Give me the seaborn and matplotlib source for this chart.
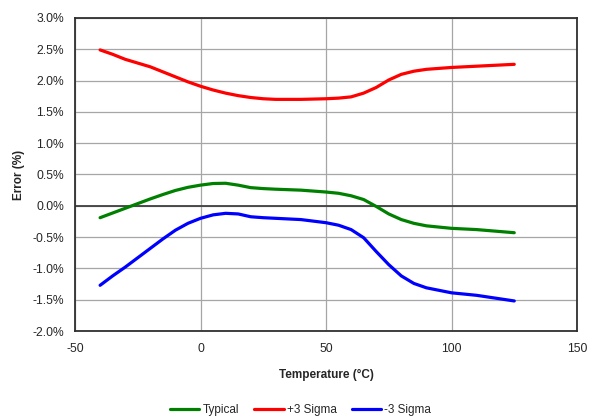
import numpy as np
import pandas as pd
import seaborn as sns
import matplotlib
matplotlib.use('Agg')
from matplotlib import pyplot as plt
from matplotlib.ticker import FuncFormatter

temps = [-40, -35, -30, -25, -20, -15, -10, -5, 0, 5, 10, 15, 20, 25, 30, 40, 50, 55,
         60, 65, 70, 75, 80, 85, 90, 100, 110, 125]
typical = [-0.19, -0.115, -0.04, 0.035, 0.11, 0.18, 0.245, 0.295, 0.33, 0.356, 0.36, 0.33,
           0.29, 0.275, 0.265, 0.25, 0.22, 0.20, 0.16, 0.10, -0.01, -0.13, -0.22, -0.28,
           -0.32, -0.36, -0.38, -0.43]
plus3 = [2.49, 2.42, 2.34, 2.28, 2.22, 2.14, 2.06, 1.98, 1.91, 1.85, 1.80, 1.76,
         1.73, 1.71, 1.70, 1.70, 1.71, 1.72, 1.74, 1.80, 1.89, 2.01, 2.10, 2.15,
         2.18, 2.21, 2.23, 2.26]
minus3 = [-1.27, -1.12, -0.98, -0.83, -0.68, -0.53, -0.39, -0.28, -0.20, -0.145, -0.12,
          -0.13, -0.175, -0.19, -0.20, -0.22, -0.27, -0.31, -0.38, -0.51, -0.73, -0.94,
          -1.12, -1.24, -1.31, -1.39, -1.43, -1.52]
series = ['Typical', '+3 Sigma', '-3 Sigma']
colors = ['#008000', '#ff0000', '#0000ff']

df = pd.DataFrame({
    'temp': temps * 3,
    'err': typical + plus3 + minus3,
    'series': sum([[s] * len(temps) for s in series], []),
})

sns.set_style('white')
plt.rcParams['font.family'] = ['Liberation Sans', 'DejaVu Sans']
plt.rcParams['font.size'] = 8.5
plt.rcParams['axes.unicode_minus'] = False

fig = plt.figure(figsize=(6.01, 4.18), dpi=100)
ax = fig.add_axes([75/601, 1-331/418, 502/601, 313/418])

sns.lineplot(data=df, x='temp', y='err', hue='series', hue_order=series,
             palette=colors, linewidth=2.3, ax=ax)

ax.set_xlim(-50, 150)
ax.set_ylim(-2.0, 3.0)
ax.set_xticks(np.arange(-50, 151, 50))
ax.set_yticks(np.arange(-2.0, 3.01, 0.5))
ax.yaxis.set_major_formatter(FuncFormatter(lambda v, p: '%.1f%%' % v))
ax.grid(True, color='#a6a6a6', linewidth=0.9)
ax.axhline(0, color='#404040', linewidth=1.3, zorder=1.5)
ax.set_axisbelow(True)
for sp in ax.spines.values():
    sp.set_color('#303030')
    sp.set_linewidth(1.3)
ax.tick_params(axis='y', length=0, pad=8, labelsize=8.7)
ax.tick_params(axis='x', length=0, pad=9, labelsize=8.7)

ax.set_xlabel('Temperature (°C)', fontweight='bold', fontsize=8.5, labelpad=10)
ax.set_ylabel('Error (%)', fontweight='bold', fontsize=8.5, labelpad=5)

ax.legend(loc='center', bbox_to_anchor=(0.5, 1 - 410/418), bbox_transform=fig.transFigure,
          ncol=3, frameon=False, handlelength=2.5, handletextpad=0.25,
          columnspacing=1.3, fontsize=8.5)

fig.savefig('out.png', dpi=100)
